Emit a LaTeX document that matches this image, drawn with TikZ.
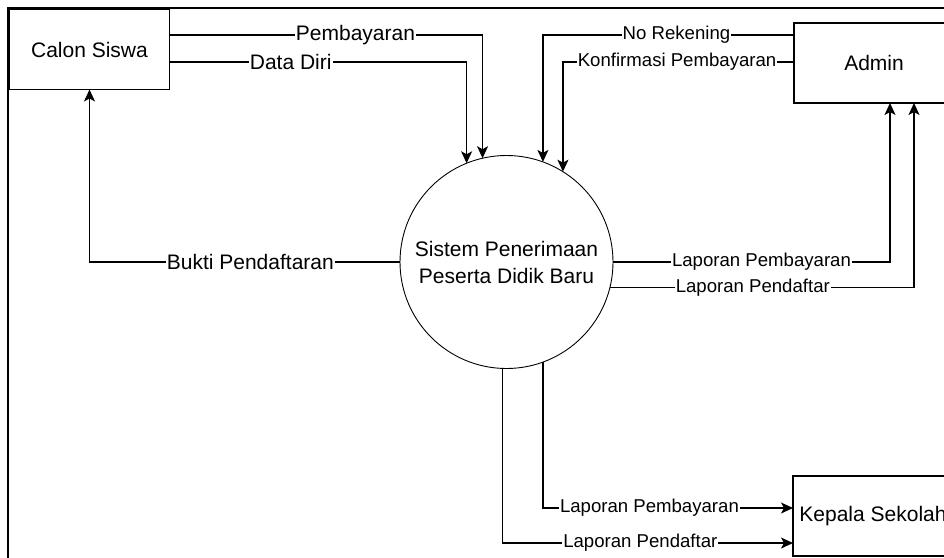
\documentclass[tikz,border=0pt]{standalone}
\usepackage{fontspec}
\setmainfont{Liberation Sans}
\usetikzlibrary{arrows.meta,calc}
\begin{document}
\begin{tikzpicture}[x=1pt,y=-1pt,
  entity/.style={draw=black,line width=1.3pt,minimum width=160pt,minimum height=80pt,
    inner sep=0pt,outer sep=0pt,font=\fontsize{21}{25}\selectfont},
  procnode/.style={draw=black,line width=0.9pt,circle,minimum size=213pt,inner sep=0pt,
    outer sep=0pt,align=center,font=\fontsize{21}{27}\selectfont},
  flow/.style={draw=black,line width=1.3pt,-{Stealth[length=12pt,width=11pt,inset=3pt]}},
  lbl/.style={fill=white,inner xsep=1pt,inner ysep=0pt,font=\fontsize{21}{21}\selectfont},
  lblsmall/.style={fill=white,inner xsep=1pt,inner ysep=0pt,font=\fontsize{18.6}{18.6}\selectfont},
  frameline/.style={draw=black,line width=1.8pt}]
\useasboundingbox (0,0) rectangle (944,557);
\clip (0,0) rectangle (944,557);
\fill[white] (0,0) rectangle (944,557);

% outer frame
\draw[frameline] (8,580) -- (8,8) -- (970,8);

% external entities and the process
\node[entity] (cs) at (89.5,49.5) {Calon Siswa};
\node[entity] (adm) at (874,63) {Admin};
\node[entity] (ks) at (873,516) {Kepala Sekolah};
\node[procnode] (sys) at (506.5,262) {Sistem Penerimaan\\Peserta Didik Baru};

% data flows into the process
\draw[flow] ($(cs.north east)+(0,25.5)$) -| node[lbl,pos=.297]{Pembayaran} (sys.103.2);
\draw[flow] ($(cs.north east)+(0,52.5)$) -| node[lbl,pos=.204]{Data Diri} (sys.112.2);
\draw[flow] ($(adm.north west)+(0,12)$) -| node[lblsmall,pos=.234]{No Rekening} (sys.70.6);
\draw[flow] ($(adm.north west)+(0,39)$) -| node[lblsmall,pos=.253]{Konfirmasi Pembayaran} (sys.58.1);

% data flows out of the process
\draw[flow] (sys.west) -| node[lbl,pos=.241]{Bukti Pendaftaran} (cs.south);
\draw[flow] (sys.east) -| node[lblsmall,pos=.268]{Laporan Pembayaran} ($(adm.south)+(16,0)$);
\draw[flow] (sys.-14.6) -| node[lblsmall,pos=.235]{Laporan Pendaftar} ($(adm.south)+(40,0)$);
\draw[flow] (sys.-70.6) |- node[lblsmall,pos=.713]{Laporan Pembayaran} ($(ks.north west)+(0,32)$);
\draw[flow] (sys.-92.4) |- node[lblsmall,pos=.737]{Laporan Pendaftar} ($(ks.north west)+(0,67)$);
\end{tikzpicture}
\end{document}
